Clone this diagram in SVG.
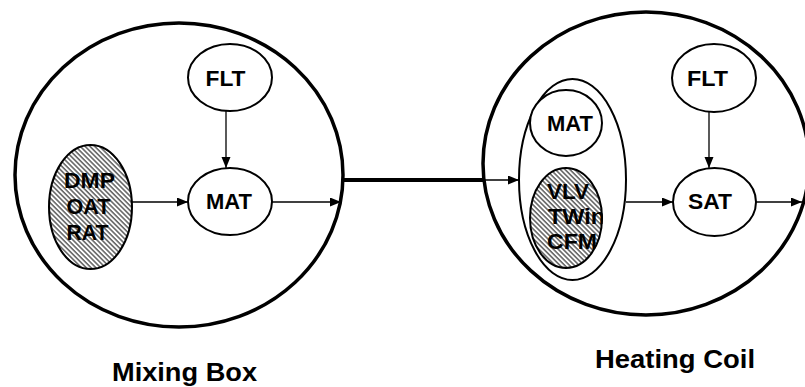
<svg xmlns="http://www.w3.org/2000/svg" width="805" height="387" viewBox="0 0 805 387">
  <style>
    .big { fill: none; stroke: #000; stroke-width: 3.5; }
    .node { fill: #fff; stroke: #000; stroke-width: 2; }
    .hatch { fill: url(#hatchPat); stroke: #000; stroke-width: 2; }
    .conn { fill: none; stroke: #000; stroke-width: 1.3; }
    .thick { fill: none; stroke: #000; stroke-width: 4; }
    text { font-family: "Liberation Sans", Arial, sans-serif; font-weight: bold; fill: #000; }
    .lbl { font-size: 22px; text-anchor: middle; }
    .title { font-size: 26px; text-anchor: middle; }
  </style>
  <defs>
    <pattern id="hatchPat" patternUnits="userSpaceOnUse" width="3.4" height="3.4" patternTransform="rotate(-45)">
      <rect width="3.4" height="3.4" fill="#fff"/>
      <line x1="0.9" y1="0" x2="0.9" y2="3.4" stroke="#444" stroke-width="1.3"/>
    </pattern>
    <marker id="arr" markerUnits="userSpaceOnUse" markerWidth="12" markerHeight="10" refX="11" refY="4.5" orient="auto">
      <path d="M0,0 L11,4.5 L0,9 z" fill="#000"/>
    </marker>
    <clipPath id="clipR">
      <ellipse cx="566" cy="218" rx="37" ry="51"/>
    </clipPath>
  </defs>

  <g id="mixing-box">
    <ellipse class="big" cx="179" cy="175" rx="164" ry="152"/>
    <text class="title" x="184.5" y="381" textLength="145" lengthAdjust="spacingAndGlyphs">Mixing Box</text>
  </g>
  <g id="heating-coil">
    <ellipse class="big" cx="646" cy="163.5" rx="163" ry="151.5"/>
    <text class="title" x="675" y="368" textLength="160" lengthAdjust="spacingAndGlyphs">Heating Coil</text>
  </g>

  <g id="connectors">
    <line class="conn" x1="226" y1="111" x2="226" y2="168" marker-end="url(#arr)"/>
    <line class="conn" x1="132" y1="202" x2="188" y2="202" marker-end="url(#arr)"/>
    <line class="conn" x1="272" y1="202" x2="341" y2="202" marker-end="url(#arr)"/>
    <line class="thick" x1="342" y1="180" x2="484" y2="180"/>
    <line class="conn" x1="484" y1="180" x2="519" y2="180" marker-end="url(#arr)"/>
    <line class="conn" x1="709" y1="112" x2="709" y2="168" marker-end="url(#arr)"/>
    <line class="conn" x1="626" y1="202" x2="673" y2="202" marker-end="url(#arr)"/>
    <line class="conn" x1="756" y1="202" x2="802" y2="202" marker-end="url(#arr)"/>
  </g>

  <g id="flt-left">
    <ellipse class="node" cx="230" cy="77.5" rx="42" ry="33.5"/>
    <text class="lbl" x="225.5" y="86" textLength="40" lengthAdjust="spacingAndGlyphs">FLT</text>
  </g>
  <g id="mat-left">
    <ellipse class="node" cx="230" cy="201.5" rx="42" ry="33.5"/>
    <text class="lbl" x="229" y="209" textLength="46" lengthAdjust="spacingAndGlyphs">MAT</text>
  </g>
  <g id="inputs-left">
    <ellipse class="hatch" cx="90.5" cy="207" rx="41.5" ry="62"/>
    <text class="lbl" x="89.5" y="188" textLength="51" lengthAdjust="spacingAndGlyphs">DMP</text>
    <text class="lbl" x="88.5" y="214" textLength="44" lengthAdjust="spacingAndGlyphs">OAT</text>
    <text class="lbl" x="87.5" y="240" textLength="42" lengthAdjust="spacingAndGlyphs">RAT</text>
  </g>

  <g id="coil-inputs">
    <ellipse class="node" cx="572.5" cy="179.5" rx="53.5" ry="100.5"/>
    <g id="mat-right">
      <ellipse class="node" cx="566" cy="123" rx="36" ry="33"/>
      <text class="lbl" x="570" y="131" textLength="46" lengthAdjust="spacingAndGlyphs">MAT</text>
    </g>
    <g id="inputs-right">
      <ellipse class="hatch" cx="566" cy="218" rx="36" ry="50"/>
      <g clip-path="url(#clipR)">
        <text x="547" y="199" font-size="22" textLength="42" lengthAdjust="spacingAndGlyphs">VLV</text>
        <text x="548" y="224" font-size="22" textLength="57" lengthAdjust="spacingAndGlyphs">TWin</text>
        <text x="547" y="249" font-size="22" textLength="50" lengthAdjust="spacingAndGlyphs">CFM</text>
      </g>
    </g>
  </g>

  <g id="flt-right">
    <ellipse class="node" cx="714" cy="78" rx="42" ry="34"/>
    <text class="lbl" x="707.5" y="86" textLength="41" lengthAdjust="spacingAndGlyphs">FLT</text>
  </g>
  <g id="sat">
    <ellipse class="node" cx="714.5" cy="202" rx="41.5" ry="34"/>
    <text class="lbl" x="710" y="209" textLength="44" lengthAdjust="spacingAndGlyphs">SAT</text>
  </g>
</svg>
